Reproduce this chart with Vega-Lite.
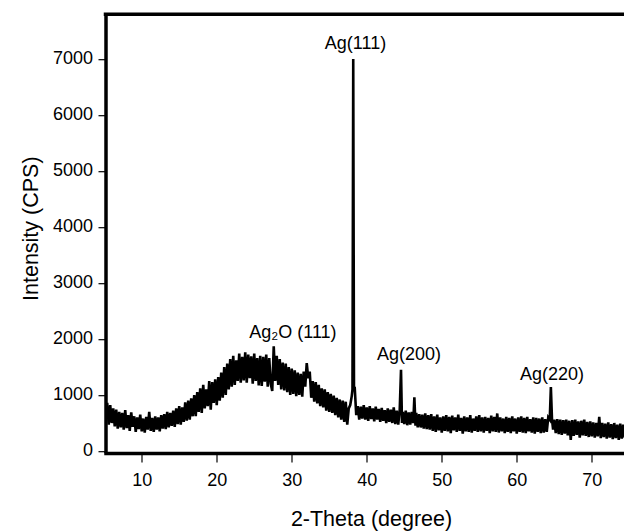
{
  "$schema": "https://vega.github.io/schema/vega-lite/v6.json",
  "autosize": {"type": "none"},
  "padding": {"left": 105.5, "top": 14.2, "right": 0, "bottom": 80.8},
  "width": 518.5,
  "height": 436.8,
  "background": "white",
  "config": {
    "view": {"stroke": null},
    "font": "Liberation Sans",
    "axis": {"grid": false, "domainColor": "black", "domainWidth": 3.5, "domainCap": "square", "tickColor": "black", "tickWidth": 1.2, "labelColor": "black", "titleColor": "black", "labelFont": "Liberation Sans", "titleFont": "Liberation Sans", "labelFontSize": 18, "titleFontSize": 21.5, "titleFontWeight": "normal"}
  },
  "datasets": {
    "xrd": [
      {"theta":5.0,"cps":980},{"theta":5.2,"cps":620},{"theta":5.4,"cps":860},{"theta":5.6,"cps":470},{"theta":5.8,"cps":820},
      {"theta":6.0,"cps":500},{"theta":6.2,"cps":760},{"theta":6.4,"cps":440},{"theta":6.6,"cps":740},{"theta":6.8,"cps":400},
      {"theta":7.0,"cps":700},{"theta":7.2,"cps":420},{"theta":7.4,"cps":680},{"theta":7.6,"cps":380},{"theta":7.8,"cps":730},
      {"theta":8.0,"cps":410},{"theta":8.2,"cps":640},{"theta":8.4,"cps":360},{"theta":8.6,"cps":690},{"theta":8.8,"cps":430},
      {"theta":9.0,"cps":620},{"theta":9.2,"cps":340},{"theta":9.4,"cps":600},{"theta":9.6,"cps":390},{"theta":9.8,"cps":650},
      {"theta":10.0,"cps":350},{"theta":10.2,"cps":580},{"theta":10.4,"cps":330},{"theta":10.6,"cps":610},{"theta":10.8,"cps":380},
      {"theta":11.0,"cps":700},{"theta":11.2,"cps":360},{"theta":11.4,"cps":590},{"theta":11.6,"cps":340},{"theta":11.8,"cps":620},
      {"theta":12.0,"cps":380},{"theta":12.2,"cps":600},{"theta":12.4,"cps":350},{"theta":12.6,"cps":640},{"theta":12.8,"cps":400},
      {"theta":13.0,"cps":660},{"theta":13.2,"cps":390},{"theta":13.4,"cps":700},{"theta":13.6,"cps":420},{"theta":13.8,"cps":680},
      {"theta":14.0,"cps":450},{"theta":14.2,"cps":720},{"theta":14.4,"cps":430},{"theta":14.6,"cps":760},{"theta":14.8,"cps":480},
      {"theta":15.0,"cps":800},{"theta":15.2,"cps":470},{"theta":15.4,"cps":780},{"theta":15.6,"cps":520},{"theta":15.8,"cps":870},
      {"theta":16.0,"cps":540},{"theta":16.2,"cps":900},{"theta":16.4,"cps":560},{"theta":16.6,"cps":940},{"theta":16.8,"cps":620},
      {"theta":17.0,"cps":1000},{"theta":17.2,"cps":620},{"theta":17.4,"cps":1050},{"theta":17.6,"cps":700},{"theta":17.8,"cps":1120},
      {"theta":18.0,"cps":680},{"theta":18.2,"cps":1180},{"theta":18.4,"cps":760},{"theta":18.6,"cps":1100},{"theta":18.8,"cps":800},
      {"theta":19.0,"cps":1250},{"theta":19.2,"cps":740},{"theta":19.4,"cps":1230},{"theta":19.6,"cps":860},{"theta":19.8,"cps":1280},
      {"theta":20.0,"cps":820},{"theta":20.2,"cps":1320},{"theta":20.4,"cps":900},{"theta":20.6,"cps":1400},{"theta":20.8,"cps":950},
      {"theta":21.0,"cps":1500},{"theta":21.2,"cps":1000},{"theta":21.4,"cps":1560},{"theta":21.6,"cps":1100},{"theta":21.8,"cps":1640},
      {"theta":22.0,"cps":1150},{"theta":22.2,"cps":1700},{"theta":22.4,"cps":1180},{"theta":22.6,"cps":1620},{"theta":22.8,"cps":1250},
      {"theta":23.0,"cps":1740},{"theta":23.2,"cps":1220},{"theta":23.4,"cps":1680},{"theta":23.6,"cps":1260},{"theta":23.8,"cps":1760},
      {"theta":24.0,"cps":1220},{"theta":24.2,"cps":1720},{"theta":24.4,"cps":1300},{"theta":24.6,"cps":1690},{"theta":24.8,"cps":1200},
      {"theta":25.0,"cps":1740},{"theta":25.2,"cps":1250},{"theta":25.4,"cps":1660},{"theta":25.6,"cps":1170},{"theta":25.8,"cps":1700},
      {"theta":26.0,"cps":1160},{"theta":26.2,"cps":1680},{"theta":26.4,"cps":1240},{"theta":26.6,"cps":1720},{"theta":26.8,"cps":1150},
      {"theta":27.0,"cps":1660},{"theta":27.2,"cps":1200},{"theta":27.4,"cps":1070},{"theta":27.6,"cps":1870},{"theta":27.8,"cps":1250},
      {"theta":28.0,"cps":1700},{"theta":28.2,"cps":1180},{"theta":28.4,"cps":1640},{"theta":28.6,"cps":1100},{"theta":28.8,"cps":1580},
      {"theta":29.0,"cps":1080},{"theta":29.2,"cps":1560},{"theta":29.4,"cps":1050},{"theta":29.6,"cps":1500},{"theta":29.8,"cps":1000},
      {"theta":30.0,"cps":1470},{"theta":30.2,"cps":1020},{"theta":30.4,"cps":1440},{"theta":30.6,"cps":980},{"theta":30.8,"cps":1400},
      {"theta":31.0,"cps":1000},{"theta":31.2,"cps":1380},{"theta":31.4,"cps":970},{"theta":31.6,"cps":1420},{"theta":31.8,"cps":1150},
      {"theta":32.0,"cps":1570},{"theta":32.2,"cps":1300},{"theta":32.4,"cps":1420},{"theta":32.6,"cps":950},{"theta":32.8,"cps":1250},
      {"theta":33.0,"cps":880},{"theta":33.2,"cps":1230},{"theta":33.4,"cps":850},{"theta":33.6,"cps":1180},{"theta":33.8,"cps":800},
      {"theta":34.0,"cps":1120},{"theta":34.2,"cps":780},{"theta":34.4,"cps":1100},{"theta":34.6,"cps":720},{"theta":34.8,"cps":1050},
      {"theta":35.0,"cps":700},{"theta":35.2,"cps":1020},{"theta":35.4,"cps":680},{"theta":35.6,"cps":990},{"theta":35.8,"cps":640},
      {"theta":36.0,"cps":950},{"theta":36.2,"cps":600},{"theta":36.4,"cps":920},{"theta":36.6,"cps":560},{"theta":36.8,"cps":900},
      {"theta":37.0,"cps":520},{"theta":37.2,"cps":880},{"theta":37.4,"cps":470},{"theta":37.6,"cps":760},{"theta":37.8,"cps":820},
      {"theta":38.0,"cps":980},{"theta":38.1,"cps":1100},{"theta":38.2,"cps":7000},{"theta":38.3,"cps":1150},{"theta":38.4,"cps":1130},
      {"theta":38.6,"cps":640},{"theta":38.8,"cps":800},
      {"theta":39.0,"cps":560},{"theta":39.2,"cps":790},{"theta":39.4,"cps":580},{"theta":39.6,"cps":820},{"theta":39.8,"cps":560},
      {"theta":40.0,"cps":780},{"theta":40.2,"cps":540},{"theta":40.4,"cps":800},{"theta":40.6,"cps":570},{"theta":40.8,"cps":760},
      {"theta":41.0,"cps":530},{"theta":41.2,"cps":790},{"theta":41.4,"cps":560},{"theta":41.6,"cps":750},{"theta":41.8,"cps":520},
      {"theta":42.0,"cps":770},{"theta":42.2,"cps":540},{"theta":42.4,"cps":730},{"theta":42.6,"cps":500},{"theta":42.8,"cps":760},
      {"theta":43.0,"cps":520},{"theta":43.2,"cps":740},{"theta":43.4,"cps":500},{"theta":43.6,"cps":780},{"theta":43.8,"cps":480},
      {"theta":44.0,"cps":720},{"theta":44.2,"cps":470},{"theta":44.4,"cps":740},{"theta":44.57,"cps":1450},{"theta":44.7,"cps":500},
      {"theta":44.8,"cps":700},
      {"theta":45.0,"cps":480},{"theta":45.2,"cps":720},{"theta":45.4,"cps":460},{"theta":45.6,"cps":690},{"theta":45.8,"cps":470},
      {"theta":46.0,"cps":700},{"theta":46.2,"cps":500},{"theta":46.35,"cps":960},{"theta":46.5,"cps":450},{"theta":46.6,"cps":680},
      {"theta":46.8,"cps":420},
      {"theta":47.0,"cps":660},{"theta":47.2,"cps":420},{"theta":47.4,"cps":650},{"theta":47.6,"cps":400},{"theta":47.8,"cps":670},
      {"theta":48.0,"cps":390},{"theta":48.2,"cps":640},{"theta":48.4,"cps":380},{"theta":48.6,"cps":660},{"theta":48.8,"cps":360},
      {"theta":49.0,"cps":620},{"theta":49.2,"cps":340},{"theta":49.4,"cps":650},{"theta":49.6,"cps":370},{"theta":49.8,"cps":600},
      {"theta":50.0,"cps":330},{"theta":50.2,"cps":620},{"theta":50.4,"cps":360},{"theta":50.6,"cps":640},{"theta":50.8,"cps":350},
      {"theta":51.0,"cps":610},{"theta":51.2,"cps":320},{"theta":51.4,"cps":630},{"theta":51.6,"cps":370},{"theta":51.8,"cps":600},
      {"theta":52.0,"cps":340},{"theta":52.2,"cps":650},{"theta":52.4,"cps":360},{"theta":52.6,"cps":590},{"theta":52.8,"cps":310},
      {"theta":53.0,"cps":620},{"theta":53.2,"cps":350},{"theta":53.4,"cps":600},{"theta":53.6,"cps":340},{"theta":53.8,"cps":640},
      {"theta":54.0,"cps":330},{"theta":54.2,"cps":580},{"theta":54.4,"cps":360},{"theta":54.6,"cps":620},{"theta":54.8,"cps":340},
      {"theta":55.0,"cps":640},{"theta":55.2,"cps":350},{"theta":55.4,"cps":600},{"theta":55.6,"cps":330},{"theta":55.8,"cps":610},
      {"theta":56.0,"cps":360},{"theta":56.2,"cps":590},{"theta":56.4,"cps":320},{"theta":56.6,"cps":630},{"theta":56.8,"cps":350},
      {"theta":57.0,"cps":610},{"theta":57.2,"cps":340},{"theta":57.4,"cps":670},{"theta":57.6,"cps":330},{"theta":57.8,"cps":600},
      {"theta":58.0,"cps":350},{"theta":58.2,"cps":580},{"theta":58.4,"cps":320},{"theta":58.6,"cps":610},{"theta":58.8,"cps":340},
      {"theta":59.0,"cps":590},{"theta":59.2,"cps":320},{"theta":59.4,"cps":620},{"theta":59.6,"cps":350},{"theta":59.8,"cps":580},
      {"theta":60.0,"cps":310},{"theta":60.2,"cps":600},{"theta":60.4,"cps":340},{"theta":60.6,"cps":620},{"theta":60.8,"cps":330},
      {"theta":61.0,"cps":590},{"theta":61.2,"cps":320},{"theta":61.4,"cps":610},{"theta":61.6,"cps":350},{"theta":61.8,"cps":570},
      {"theta":62.0,"cps":330},{"theta":62.2,"cps":600},{"theta":62.4,"cps":310},{"theta":62.6,"cps":590},{"theta":62.8,"cps":340},
      {"theta":63.0,"cps":580},{"theta":63.2,"cps":320},{"theta":63.4,"cps":600},{"theta":63.6,"cps":330},{"theta":63.8,"cps":570},
      {"theta":64.0,"cps":340},{"theta":64.2,"cps":600},{"theta":64.4,"cps":560},{"theta":64.55,"cps":1140},{"theta":64.7,"cps":560},
      {"theta":64.85,"cps":380},
      {"theta":65.0,"cps":560},{"theta":65.2,"cps":320},{"theta":65.4,"cps":570},{"theta":65.6,"cps":300},{"theta":65.8,"cps":560},
      {"theta":66.0,"cps":290},{"theta":66.2,"cps":550},{"theta":66.4,"cps":310},{"theta":66.6,"cps":560},{"theta":66.8,"cps":280},
      {"theta":67.0,"cps":540},{"theta":67.2,"cps":200},{"theta":67.4,"cps":550},{"theta":67.6,"cps":270},{"theta":67.8,"cps":560},
      {"theta":68.0,"cps":290},{"theta":68.2,"cps":530},{"theta":68.4,"cps":240},{"theta":68.6,"cps":540},{"theta":68.8,"cps":280},
      {"theta":69.0,"cps":560},{"theta":69.2,"cps":270},{"theta":69.4,"cps":520},{"theta":69.6,"cps":250},{"theta":69.8,"cps":530},
      {"theta":70.0,"cps":260},{"theta":70.2,"cps":510},{"theta":70.4,"cps":240},{"theta":70.6,"cps":500},{"theta":70.8,"cps":260},
      {"theta":71.0,"cps":610},{"theta":71.2,"cps":230},{"theta":71.4,"cps":500},{"theta":71.6,"cps":250},{"theta":71.8,"cps":490},
      {"theta":72.0,"cps":220},{"theta":72.2,"cps":510},{"theta":72.4,"cps":240},{"theta":72.6,"cps":480},{"theta":72.8,"cps":210},
      {"theta":73.0,"cps":500},{"theta":73.2,"cps":230},{"theta":73.4,"cps":470},{"theta":73.6,"cps":200},{"theta":73.8,"cps":490},
      {"theta":74.0,"cps":220},{"theta":74.2,"cps":470},{"theta":74.4,"cps":240}
    ],
    "labels": [
      {"theta":38.5,"cps":7180,"text":"Ag(111)"},
      {"theta":30.16,"cps":2015,"text":"Ag₂O (111)"},
      {"theta":45.64,"cps":1633,"text":"Ag(200)"},
      {"theta":64.7,"cps":1270,"text":"Ag(220)"}
    ],
    "frame": [{"cps":7800}]
  },
  "layer": [
    {
      "data": {"name": "xrd"},
      "mark": {"type": "line", "color": "black", "strokeWidth": 2.6, "strokeJoin": "miter", "clip": true},
      "encoding": {
        "x": {"field": "theta", "type": "quantitative", "scale": {"domain": [5.17, 74.3], "nice": false, "zero": false},
              "axis": {"title": "2-Theta (degree)", "values": [10,20,30,40,50,60,70], "format": "d", "offset": 2, "tickSize": 9, "labelPadding": 10, "titleX": 265.5, "titleY": 72.5, "titleBaseline": "alphabetic", "titleAlign": "center", "titleAnchor": null}},
        "y": {"field": "cps", "type": "quantitative", "scale": {"domain": [0, 7800], "nice": false},
              "axis": {"title": "Intensity (CPS)", "values": [0,1000,2000,3000,4000,5000,6000,7000], "format": "d", "tickSize": 7.5, "labelPadding": 5.5, "titleAngle": 270, "titleX": -68.2, "titleY": 214, "titleBaseline": "alphabetic", "titleAlign": "center", "titleAnchor": null}}
      }
    },
    {
      "data": {"name": "frame"},
      "mark": {"type": "rule", "color": "black", "strokeWidth": 3.5, "strokeCap": "square"},
      "encoding": {"y": {"field": "cps", "type": "quantitative"}}
    },
    {
      "data": {"name": "labels"},
      "mark": {"type": "text", "font": "Liberation Sans", "fontSize": 18, "color": "black", "align": "center", "baseline": "alphabetic"},
      "encoding": {
        "x": {"field": "theta", "type": "quantitative"},
        "y": {"field": "cps", "type": "quantitative"},
        "text": {"field": "text"}
      }
    }
  ]
}
